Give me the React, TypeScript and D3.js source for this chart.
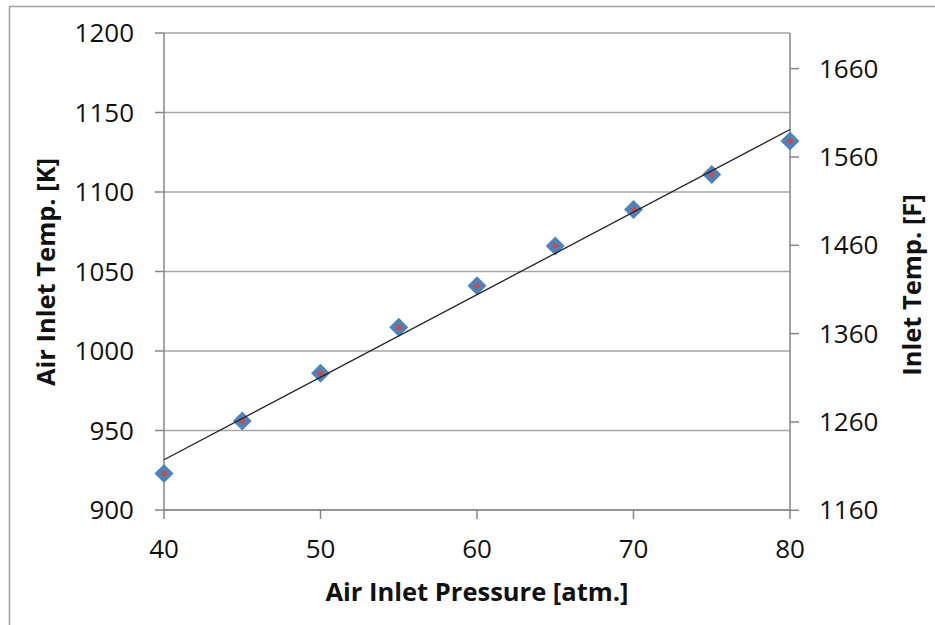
import React from "react";
import * as d3 from "d3";

const pressures = [40, 45, 50, 55, 60, 65, 70, 75, 80];
const tempsK = [923, 956, 986, 1015, 1041, 1066, 1089, 1111, 1132];
const leftTicks = [900, 950, 1000, 1050, 1100, 1150, 1200];
const rightTicks = [1160, 1260, 1360, 1460, 1560, 1660];
const xTicks = [40, 50, 60, 70, 80];

const W = 935;
const H = 625;
const FONT = "'Open Sans', sans-serif";

export default function App() {
  const x = d3.scaleLinear().domain([40, 80]).range([164, 790]);
  const y = d3.scaleLinear().domain([900, 1200]).range([510, 33]);
  const k2f = (k: number) => k * 1.8 - 459.67;
  const yF = d3.scaleLinear().domain([k2f(900), k2f(1200)]).range([510, 33]);

  const mx = d3.mean(pressures) as number;
  const my = d3.mean(tempsK) as number;
  let sxy = 0, sxx = 0;
  pressures.forEach((p, i) => {
    sxy += (p - mx) * (tempsK[i] - my);
    sxx += (p - mx) * (p - mx);
  });
  const slope = sxy / sxx;
  const icpt = my - slope * mx;
  const line = d3.line<number>().x((p) => x(p)).y((p) => y(icpt + slope * p));
  const r = 9.5;
  const diamond = `M0,${-r}L${r},0L0,${r}L${-r},0Z`;

  const axisColor = "#868686";
  const gridColor = "#a6a6a6";

  return (
    <svg width={W} height={H} style={{ position: "absolute", left: 0, top: 0, background: "#fff" }} fontFamily={FONT}>
      <rect x={9.5} y={6.5} width={1000} height={1000} fill="#fff" stroke="#a0a0a0" strokeWidth={1.5} />
      {leftTicks.map((t) => (
        <line key={"g" + t} x1={x(40)} x2={x(80)} y1={y(t)} y2={y(t)} stroke={gridColor} strokeWidth={1.5} />
      ))}
      <line x1={x(40)} x2={x(40)} y1={y(1200)} y2={y(900)} stroke={axisColor} strokeWidth={1.5} />
      {leftTicks.map((t) => (
        <g key={"l" + t}>
          <line x1={155} x2={x(40)} y1={y(t)} y2={y(t)} stroke={axisColor} strokeWidth={1.5} />
          <text x={134} y={y(t)} dy="0.35em" textAnchor="end" fontSize={26} fill="#111">{t}</text>
        </g>
      ))}
      <line x1={x(80)} x2={x(80)} y1={y(1200)} y2={y(900)} stroke={axisColor} strokeWidth={1.5} />
      {rightTicks.map((t) => (
        <g key={"r" + t}>
          <line x1={x(80)} x2={799} y1={yF(t)} y2={yF(t)} stroke={axisColor} strokeWidth={1.5} />
          <text x={819} y={yF(t)} dy="0.35em" textAnchor="start" fontSize={26} fill="#111">{t}</text>
        </g>
      ))}
      <line x1={x(40)} x2={x(80)} y1={y(900)} y2={y(900)} stroke={axisColor} strokeWidth={1.5} />
      {xTicks.map((t) => (
        <g key={"x" + t}>
          <line x1={x(t)} x2={x(t)} y1={y(900)} y2={519} stroke={axisColor} strokeWidth={1.5} />
          <text x={x(t)} y={558} textAnchor="middle" fontSize={26} fill="#111">{t}</text>
        </g>
      ))}
      {pressures.map((p, i) => (
        <g key={"m" + p} transform={`translate(${x(p)},${y(tempsK[i])})`}>
          <path d={diamond} fill="#4F81BD" />
          <circle r={2.8} fill="#C0504D" />
        </g>
      ))}
      <path d={line([40, 80]) || ""} fill="none" stroke="#222" strokeWidth={1.3} />
      <text x={477} y={601} textAnchor="middle" fontSize={25.5} fontWeight="bold" fill="#111">Air Inlet Pressure [atm.]</text>
      <text transform={`translate(55,272) rotate(-90)`} textAnchor="middle" fontSize={25.5} fontWeight="bold" fill="#111">Air Inlet Temp. [K]</text>
      <text transform={`translate(921,285) rotate(-90)`} textAnchor="middle" fontSize={25.5} fontWeight="bold" fill="#111">Inlet Temp. [F]</text>
    </svg>
  );
}
